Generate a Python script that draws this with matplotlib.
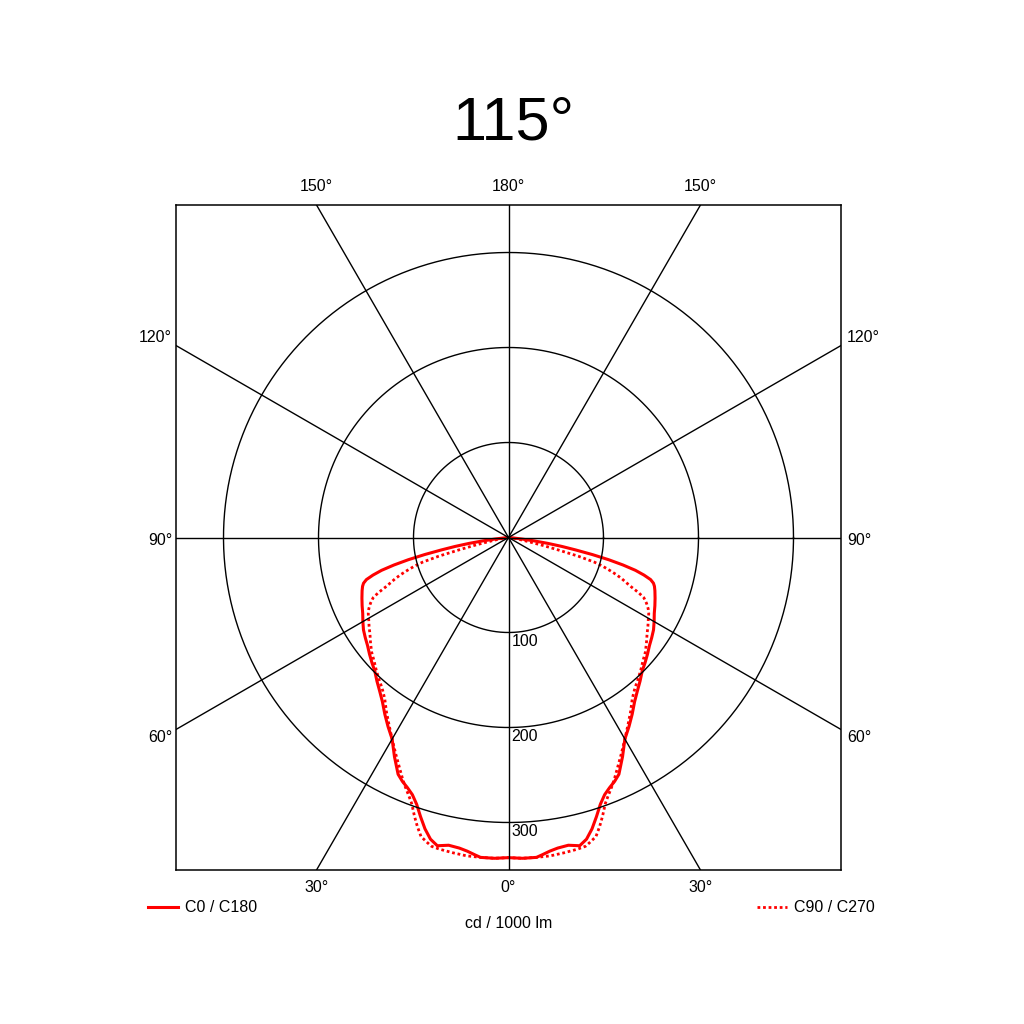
import matplotlib
matplotlib.use("Agg")
import matplotlib.pyplot as plt
import numpy as np

plt.rcParams["font.family"] = ["Liberation Sans", "DejaVu Sans"]

# gamma angle from nadir (deg) and intensity (cd / 1000 lm)
gamma_c0 = [0, 2.5, 5, 6, 7.5, 9, 11, 13, 14.5, 16, 17.5, 19, 20.5, 22, 23.5,
            25, 27.5, 30, 32.5, 35, 37.5, 40, 42.5, 45, 47.5, 50, 52.5, 55,
            57.5, 60, 62.5, 65, 67.5, 70, 71.5, 72.5, 73.5, 74.5, 75.5, 76.5,
            77.5, 78.5, 79.5, 80.5, 81.5, 82.5, 83.5, 85, 87.5, 90]
cd_c0 = [337, 338, 338, 336, 333, 331, 330, 333, 328, 319, 308, 297, 289, 284,
         280, 275, 260, 245, 236, 227, 218, 211, 205, 199, 195, 191, 187, 184,
         181, 177, 173, 170, 167, 164, 162, 160, 156, 148, 138, 124,
         108, 90, 72, 57, 42, 27, 14, 4, 1, 0]

gamma_c90 = [0, 2.5, 5, 7.5, 10, 12.5, 14, 15, 16.3, 17.5, 18.6, 20, 21, 22.5,
             23.6, 25, 27.5, 30, 32.5, 35, 37.5, 40, 42.5, 45, 47.5, 50, 52.5,
             55, 57.5, 60, 61.5, 63, 64.5, 66, 67, 68, 69, 70, 71, 72, 73, 74,
             75, 76, 77, 78, 79, 80, 82.5, 85, 90]
cd_c90 = [337, 338, 338, 338, 337, 336, 335, 332, 328, 319, 310, 298, 292, 284,
          278, 270, 257, 245, 234, 224, 214, 207, 202, 197, 192, 188, 183,
          178, 174, 170, 168, 165, 161, 156, 149, 140, 133, 127, 120, 112, 104, 94,
          76, 53, 37, 24, 16, 11, 5, 2, 0]

circle_values = [100, 200, 300]
spoke_angles = [0, 30, 60, 90, 120, 150]

title = "115°"
legend_labels = ["C0 / C180", "C90 / C270"]
unit_label = "cd / 1000 lm"

LIM = 350
RED = "#ff0000"
FS = 11.5


def to_xy(gamma, cd, side):
    g = np.radians(gamma)
    r = np.asarray(cd, dtype=float)
    return side * r * np.sin(g), -r * np.cos(g)


def full_curve(gamma, cd):
    """Left half (C180 / C270) mirrored onto right half (C0 / C90)."""
    xl, yl = to_xy(gamma, cd, -1)
    xr, yr = to_xy(gamma, cd, 1)
    return np.concatenate([xl[::-1], xr[1:]]), np.concatenate([yl[::-1], yr[1:]])


fig = plt.figure(figsize=(10.24, 10.24), dpi=100)
ax = fig.add_axes([176 / 1024, 154 / 1024, 665 / 1024, 665 / 1024])
ax.set_xlim(-LIM, LIM)
ax.set_ylim(-LIM, LIM)
ax.set_aspect("equal")
ax.set_xticks([])
ax.set_yticks([])
for s in ax.spines.values():
    s.set_linewidth(1.1)

# grid: circles and spokes
t = np.linspace(0, 2 * np.pi, 400)
for v in circle_values:
    ax.plot(v * np.cos(t), v * np.sin(t), color="black", lw=1.0, zorder=3)
for a in spoke_angles:
    rad = np.radians(a)
    ax.plot([-600 * np.sin(rad), 600 * np.sin(rad)],
            [600 * np.cos(rad), -600 * np.cos(rad)], color="black", lw=1.0, zorder=3)

# curves
x0, y0 = full_curve(gamma_c0, cd_c0)
x90, y90 = full_curve(gamma_c90, cd_c90)
ax.plot(x0, y0, color=RED, lw=2.2, zorder=2, solid_joinstyle="round")
ax.plot(x90, y90, color=RED, lw=2.0, ls=(0, (1, 1)), zorder=2)

# radial value labels
for v in circle_values:
    ax.text(3, -v - 2, str(v), ha="left", va="top", fontsize=FS, zorder=4)

# angle labels around the box
top = LIM + 19
bot = -LIM - 18
for a, lab in [(-150, "150°"), (180, "180°"), (150, "150°")]:
    xx = 0 if a == 180 else np.sign(a) * LIM * np.tan(np.radians(30))
    ax.text(xx, top, lab, ha="center", va="center", fontsize=FS, clip_on=False)
for a, lab in [(-30, "30°"), (0, "0°"), (30, "30°")]:
    xx = np.sign(a) * LIM * np.tan(np.radians(30))
    ax.text(xx, bot, lab, ha="center", va="center", fontsize=FS, clip_on=False)
for yy, lab in [(210, "120°"), (-3.5, "90°"), (-210, "60°")]:
    ax.text(-LIM - 4, yy, lab, ha="right", va="center", fontsize=FS, clip_on=False)
    ax.text(LIM + 6.5, yy, lab, ha="left", va="center", fontsize=FS, clip_on=False)

# title
fig.text(513 / 1024, 1 - 124 / 1024, title, ha="center", va="center", fontsize=44)

# legend and unit
ly = 1 - 907 / 1024
fig.add_artist(plt.Line2D([148 / 1024, 178 / 1024], [ly, ly], color=RED, lw=2.2))
fig.text(185 / 1024, ly, legend_labels[0], ha="left", va="center", fontsize=FS)
fig.add_artist(plt.Line2D([757 / 1024, 787 / 1024], [ly, ly], color=RED, lw=2.0,
                          ls=(0, (1, 1))))
fig.text(794 / 1024, ly, legend_labels[1], ha="left", va="center", fontsize=FS)
fig.text(509 / 1024, 1 - 923 / 1024, unit_label, ha="center", va="center", fontsize=FS)

fig.savefig("out.png", dpi=100, facecolor="white")
plt.close(fig)
